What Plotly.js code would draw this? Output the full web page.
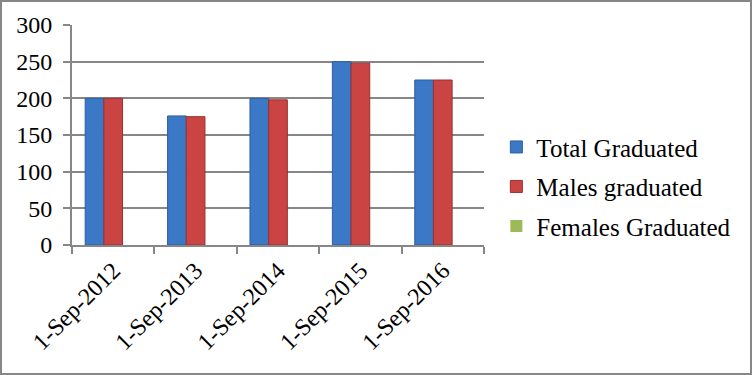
<!DOCTYPE html>
<html>
<head>
<meta charset="utf-8">
<script src="https://cdn.plot.ly/plotly-3.0.1.min.js"></script>
<style>
  html, body { margin: 0; padding: 0; background: #fff; }
  #wrap { width: 752px; height: 375px; box-sizing: border-box; border: 2px solid #878787; overflow: hidden; }
  #chart { width: 748px; height: 371px; }
</style>
</head>
<body>
<div id="wrap"><div id="chart"></div></div>
<script>
const categories = ["1-Sep-2012", "1-Sep-2013", "1-Sep-2014", "1-Sep-2015", "1-Sep-2016"];
const totalGraduated = [200, 176, 200, 250, 225];
const malesGraduated = [200, 175, 198, 248, 225];
const femalesGraduated = [0, 0, 0, 0, 0];
const yTicks = [0, 50, 100, 150, 200, 250, 300];

const font = { family: "Liberation Serif, Times New Roman, serif", size: 24, color: "#000" };
const legendFont = { family: "Liberation Serif, Times New Roman, serif", size: 25, color: "#000" };

const traces = [
  { type: "bar", name: "Total Graduated", x: categories, y: totalGraduated, legendgroup: "a",
    marker: { color: "#3B78C6", line: { color: "#2D5E9F", width: 1 } } },
  { type: "bar", name: "Males graduated", x: categories, y: malesGraduated, legendgroup: "b",
    marker: { color: "#C94442", line: { color: "#9A302E", width: 1 } } },
  { type: "bar", name: "Females Graduated", x: categories, y: femalesGraduated, legendgroup: "c",
    marker: { color: "#9BBB59", line: { color: "#7A9A3C", width: 0 } } }
];

const layout = {
  width: 748, height: 371,
  margin: { l: 70, r: 266, t: 23, b: 128, autoexpand: false },
  paper_bgcolor: "#fff", plot_bgcolor: "#fff",
  font: font,
  barmode: "group", bargap: 0.32, bargroupgap: 0,
  showlegend: true,
  legend: { x: 1.03, y: 0.265, xanchor: "left", yanchor: "middle", font: legendFont,
            traceorder: "grouped", tracegroupgap: 4, itemwidth: 30 },
  xaxis: { type: "category", showline: true, linecolor: "#878787", linewidth: 2,
           ticks: "outside", tickson: "boundaries", ticklen: 7, tickwidth: 2, tickcolor: "#878787",
           tickangle: -45, showgrid: false, tickfont: font, automargin: false },
  yaxis: { range: [0, 300], tickvals: yTicks, showline: true, linecolor: "#878787", linewidth: 2,
           ticks: "outside", ticklen: 7, tickwidth: 2, tickcolor: "#878787",
           showgrid: true, gridcolor: "#878787", gridwidth: 2, zeroline: false,
           tickfont: font, ticklabelstandoff: 6, automargin: false }
};

Plotly.newPlot("chart", traces, layout, { displayModeBar: false, staticPlot: true });
</script>
</body>
</html>
